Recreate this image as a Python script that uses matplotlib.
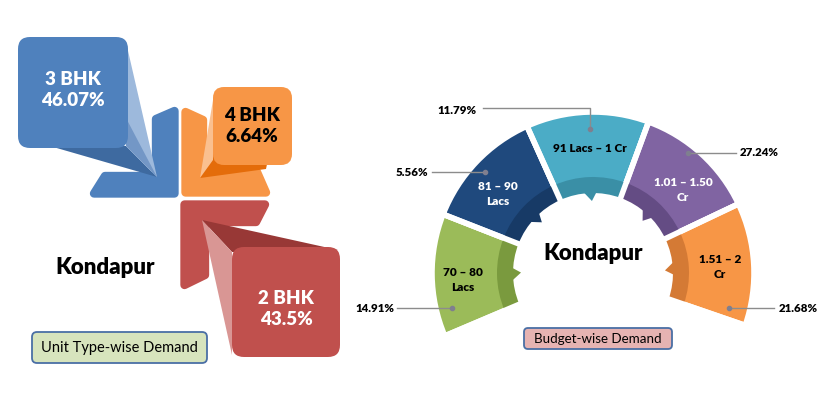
import numpy as np
import matplotlib
matplotlib.use("Agg")
import matplotlib.pyplot as plt
from matplotlib.patches import Polygon, FancyBboxPatch, Wedge

plt.rcParams['font.family'] = ['Lato', 'DejaVu Sans']

# ---------------- data ----------------
location = "Kondapur"
unit_types = ["3 BHK", "4 BHK", "2 BHK"]
unit_share = [46.07, 6.64, 43.5]
unit_text_colors = ["white", "black", "white"]

budget_ranges = ["70 – 80\nLacs", "81 – 90\nLacs", "91 Lacs – 1 Cr", "1.01 – 1.50\nCr", "1.51 – 2\nCr"]
budget_share = [14.91, 5.56, 11.79, 27.24, 21.68]
budget_text_colors = ["black", "white", "black", "white", "black"]

unit_title = "Unit Type-wise Demand"
budget_title = "Budget-wise Demand"

# ---------------- styles ----------------
seg_colors = ["#9BBB59", "#1F497D", "#4BACC6", "#8064A2", "#F79646"]
band_colors = ["#7A9A3E", "#173A66", "#3A8FA6", "#644C84", "#D47A35"]
HEAVY = "heavy"

W, H = 828, 395
fig = plt.figure(figsize=(W / 100, H / 100), dpi=100)
ax = fig.add_axes([0, 0, 1, 1])
ax.set_xlim(0, W)
ax.set_ylim(H, 0)
ax.set_aspect("equal")
ax.axis("off")


def poly(pts, color, lw=0, z=1):
    ax.add_patch(Polygon(pts, closed=True, facecolor=color, edgecolor=color,
                         linewidth=lw, joinstyle="round", zorder=z))


def rbox(x, y, w, h, color, r=12, z=3, ec="none", lw=0):
    ax.add_patch(FancyBboxPatch((x, y), w, h, boxstyle=f"round,pad=0,rounding_size={r}",
                                facecolor=color, edgecolor=ec, linewidth=lw, zorder=z))


# ---------------- left: unit type arrows ----------------
# 3 BHK (blue)
poly([(156, 119), (174.5, 111), (174.5, 193.5), (94, 193.5), (105, 176), (156, 176)], "#4F81BD", lw=6, z=1)
poly([(22, 138), (157, 177), (126, 146)], "#3E6AA0", z=2)
poly([(126, 42), (157, 177), (126, 146)], "#9DB9DC", z=2)
poly([(126, 118), (157, 177), (126, 146)], "#7397C6", z=2)
rbox(18, 37, 110, 111, "#4F81BD", r=12, z=3)

# 4 BHK (orange)
poly([(185.5, 112), (203, 120), (203, 172), (257, 172), (266, 192.5), (185.5, 192.5)], "#F79646", lw=6, z=1)
poly([(200, 178), (213, 150), (270, 150), (266, 169)], "#E46C0A", z=2)
poly([(213, 100), (200, 178), (213, 160)], "#FAC090", z=2)
rbox(213, 87, 79, 78, "#F79646", r=11, z=3)

# 2 BHK (red)
poly([(184.5, 204.5), (265, 204.5), (256, 222), (205, 222), (205, 275), (184.5, 285)], "#C0504D", lw=6, z=1)
poly([(202, 220), (338, 250), (232, 252)], "#983836", z=2)
poly([(202, 220), (232, 252), (232, 355)], "#D99694", z=2)
rbox(232, 247, 108, 110, "#C0504D", r=12, z=3)

unit_label_pos = [(73, 90), (252, 126), (286, 309)]
for name, val, col, (tx, ty) in zip(unit_types, unit_share, unit_text_colors, unit_label_pos):
    ax.text(tx, ty, f"{name}\n{val}%", color=col, fontsize=13.5, fontweight=HEAVY,
            ha="center", va="center", linespacing=1.25, zorder=5)

ax.text(105, 268, location, fontsize=16, fontweight=HEAVY, ha="center", va="center", zorder=5)
rbox(32, 332, 175, 31, "#D7E4BD", r=5, z=3, ec="#4A6FA5", lw=1.3)
ax.text(119.5, 348, unit_title, fontsize=10.5, ha="center", va="center", zorder=5)

# ---------------- right: budget arc ----------------
cx, cy = 593, 273
r_out, r_in, band_w = 161, 80, 16
start, end = 203.0, -19.0
n = len(budget_ranges)
step = (start - end) / n

for i in range(n):
    a1 = start - i * step
    a2 = a1 - step
    ax.add_patch(Wedge((cx, cy), r_out, -a1, -a2, width=r_out - r_in,
                       facecolor=seg_colors[i], edgecolor="white", linewidth=4, zorder=2))
    ax.add_patch(Wedge((cx, cy), r_in + band_w, -a1, -a2, width=band_w,
                       facecolor=band_colors[i], edgecolor="none", zorder=3))
    mid = np.deg2rad((a1 + a2) / 2)
    d = np.deg2rad(4.5)
    tri = [(cx + (r_in + 1) * np.cos(mid - d), cy - (r_in + 1) * np.sin(mid - d)),
           (cx + (r_in + 1) * np.cos(mid + d), cy - (r_in + 1) * np.sin(mid + d)),
           (cx + (r_in - 8) * np.cos(mid - 0.02), cy - (r_in - 8) * np.sin(mid - 0.02))]
    poly(tri, band_colors[i], z=3)

for i in range(n + 1):
    a = np.deg2rad(start - i * step)
    ax.plot([cx + (r_in - 2) * np.cos(a), cx + (r_out + 2) * np.cos(a)],
            [cy - (r_in - 2) * np.sin(a), cy - (r_out + 2) * np.sin(a)],
            color="white", lw=4, solid_capstyle="butt", zorder=4)

seg_label_pos = [(463, 280), (498, 194), (590, 148), (683, 190), (720, 267)]
for lab, col, (tx, ty) in zip(budget_ranges, budget_text_colors, seg_label_pos):
    ax.text(tx, ty, lab, color=col, fontsize=8.5, fontweight=HEAVY, ha="center", va="center",
            linespacing=1.45, zorder=5)

callouts = [
    ((375, 308), [(397, 308), (452, 308)]),
    ((412, 172), [(432, 172), (485, 172)]),
    ((457, 110), [(483, 108), (590, 108), (590, 129)]),
    ((759, 153), [(736, 153), (688, 153)]),
    ((798, 308), [(774, 308), (729, 308)]),
]
for val, ((tx, ty), path) in zip(budget_share, callouts):
    xs, ys = zip(*path)
    ax.plot(xs, ys, color="#8C8C8C", lw=1, zorder=6)
    ax.plot(xs[-1], ys[-1], "o", color="#7F7F8F", ms=3, zorder=7)
    ax.text(tx, ty, f"{val}%", fontsize=8.3, fontweight=HEAVY, ha="center", va="center", zorder=6)

ax.text(593, 253, location, fontsize=16, fontweight=HEAVY, ha="center", va="center", zorder=5)
rbox(524, 328, 148, 21, "#E6B3B2", r=4, z=3, ec="#4A6FA5", lw=1.3)
ax.text(598, 339, budget_title, fontsize=9.6, ha="center", va="center", zorder=5)

fig.savefig("out.png", dpi=100)
